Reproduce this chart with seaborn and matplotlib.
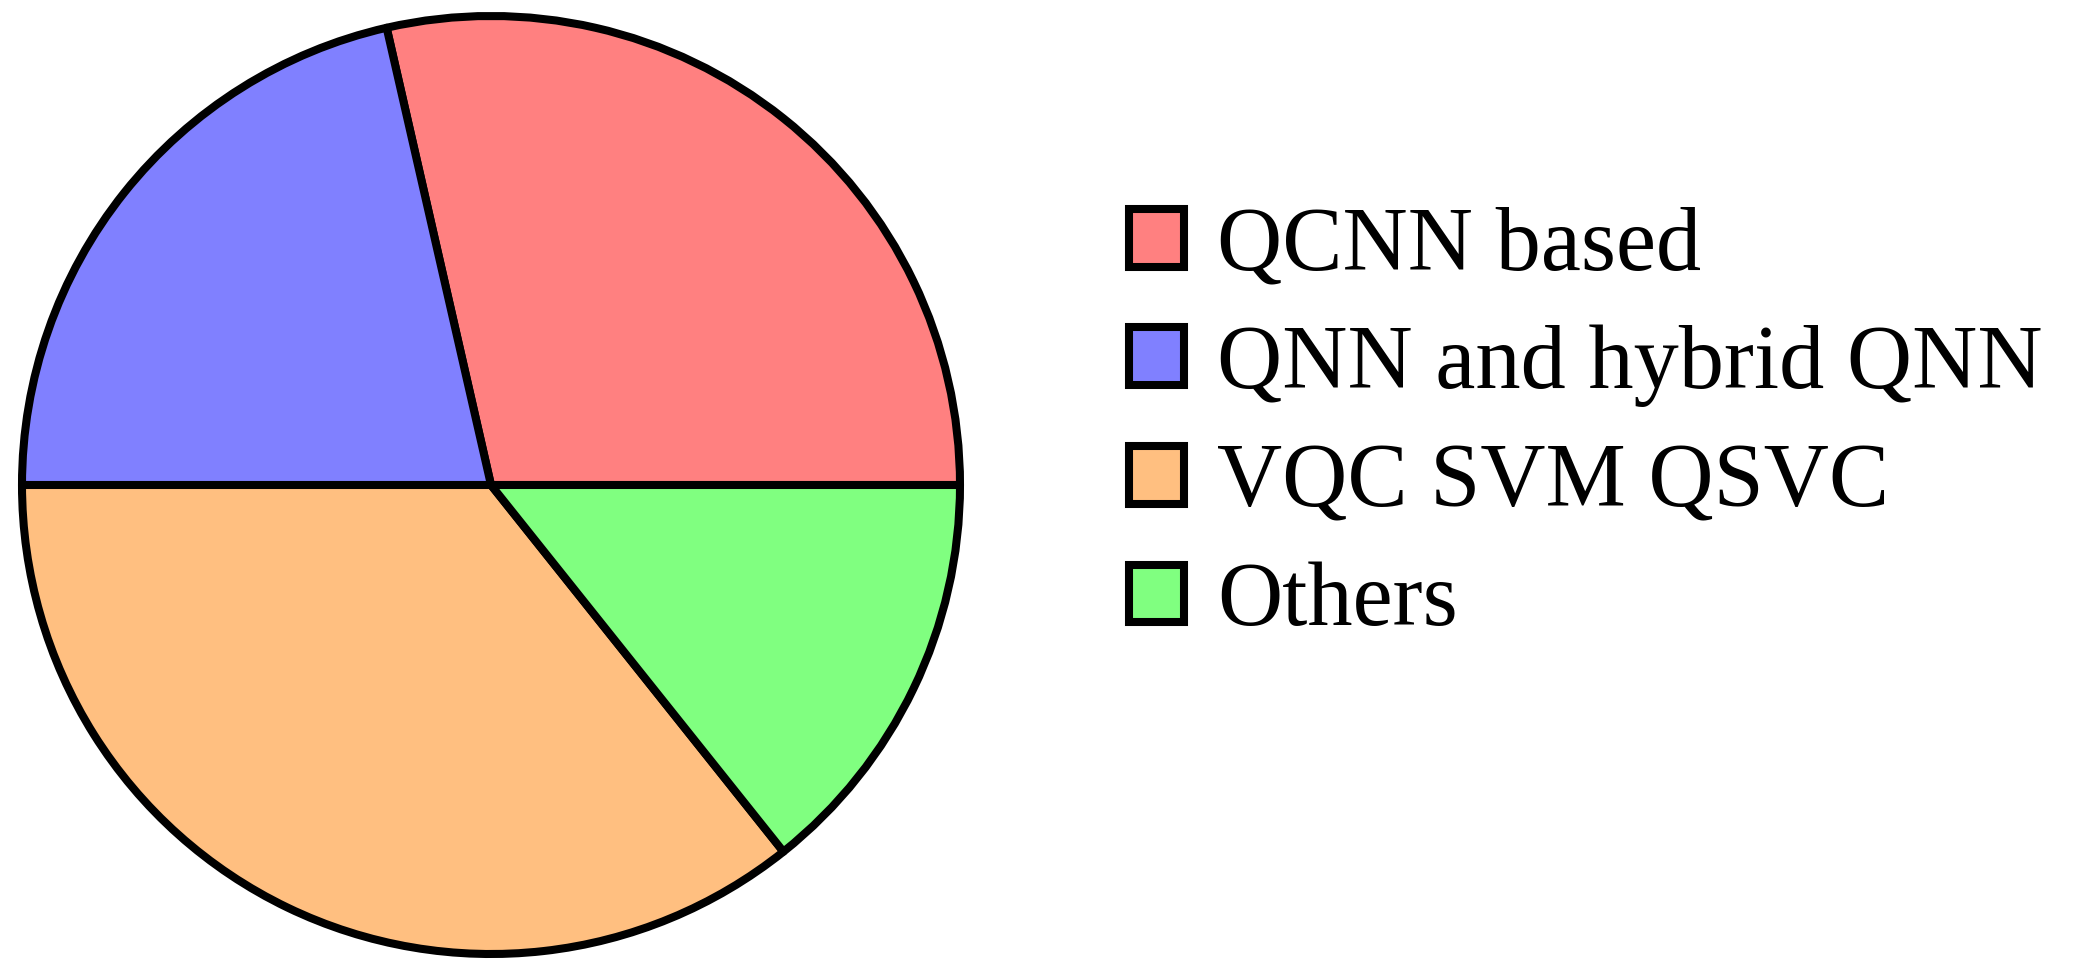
import matplotlib
matplotlib.use("Agg")
import matplotlib.pyplot as plt
import seaborn as sns
from matplotlib.patches import Patch

labels = ["QCNN based", "QNN and hybrid QNN", "VQC SVM QSVC", "Others"]
values = [4, 3, 5, 2]
colors = ["#FF8080", "#8080FF", "#FFBF80", "#80FF80"]

sns.set_theme(style="white")
plt.rcParams["font.family"] = ["Liberation Serif", "DejaVu Serif"]
plt.rcParams["text.color"] = "black"

W, H = 2084, 971
fig = plt.figure(figsize=(W / 100, H / 100), dpi=100)
fig.patch.set_facecolor("white")

cx, cy, r = 491, 485, 469
ax = fig.add_axes([(cx - r) / W, (H - cy - r) / H, 2 * r / W, 2 * r / H])
ax.pie(values, colors=colors, startangle=0, counterclock=True, radius=1,
       wedgeprops=dict(edgecolor="black", linewidth=5.8, joinstyle="round"))
ax.set_xlim(-1, 1)
ax.set_ylim(-1, 1)
ax.set_aspect("equal")
ax.axis("off")

handles = [Patch(facecolor=c, edgecolor="black", linewidth=5.8) for c in colors]
leg = fig.legend(handles, labels, loc="upper left", bbox_to_anchor=(1129 / W, 1 - 206 / H),
                 frameon=False, fontsize=65, handlelength=0.61, handleheight=0.61,
                 handletextpad=0.37, labelspacing=0.40, borderpad=0, borderaxespad=0)
for t in leg.get_texts():
    t.set_color("black")

fig.savefig("out.png", dpi=100)
